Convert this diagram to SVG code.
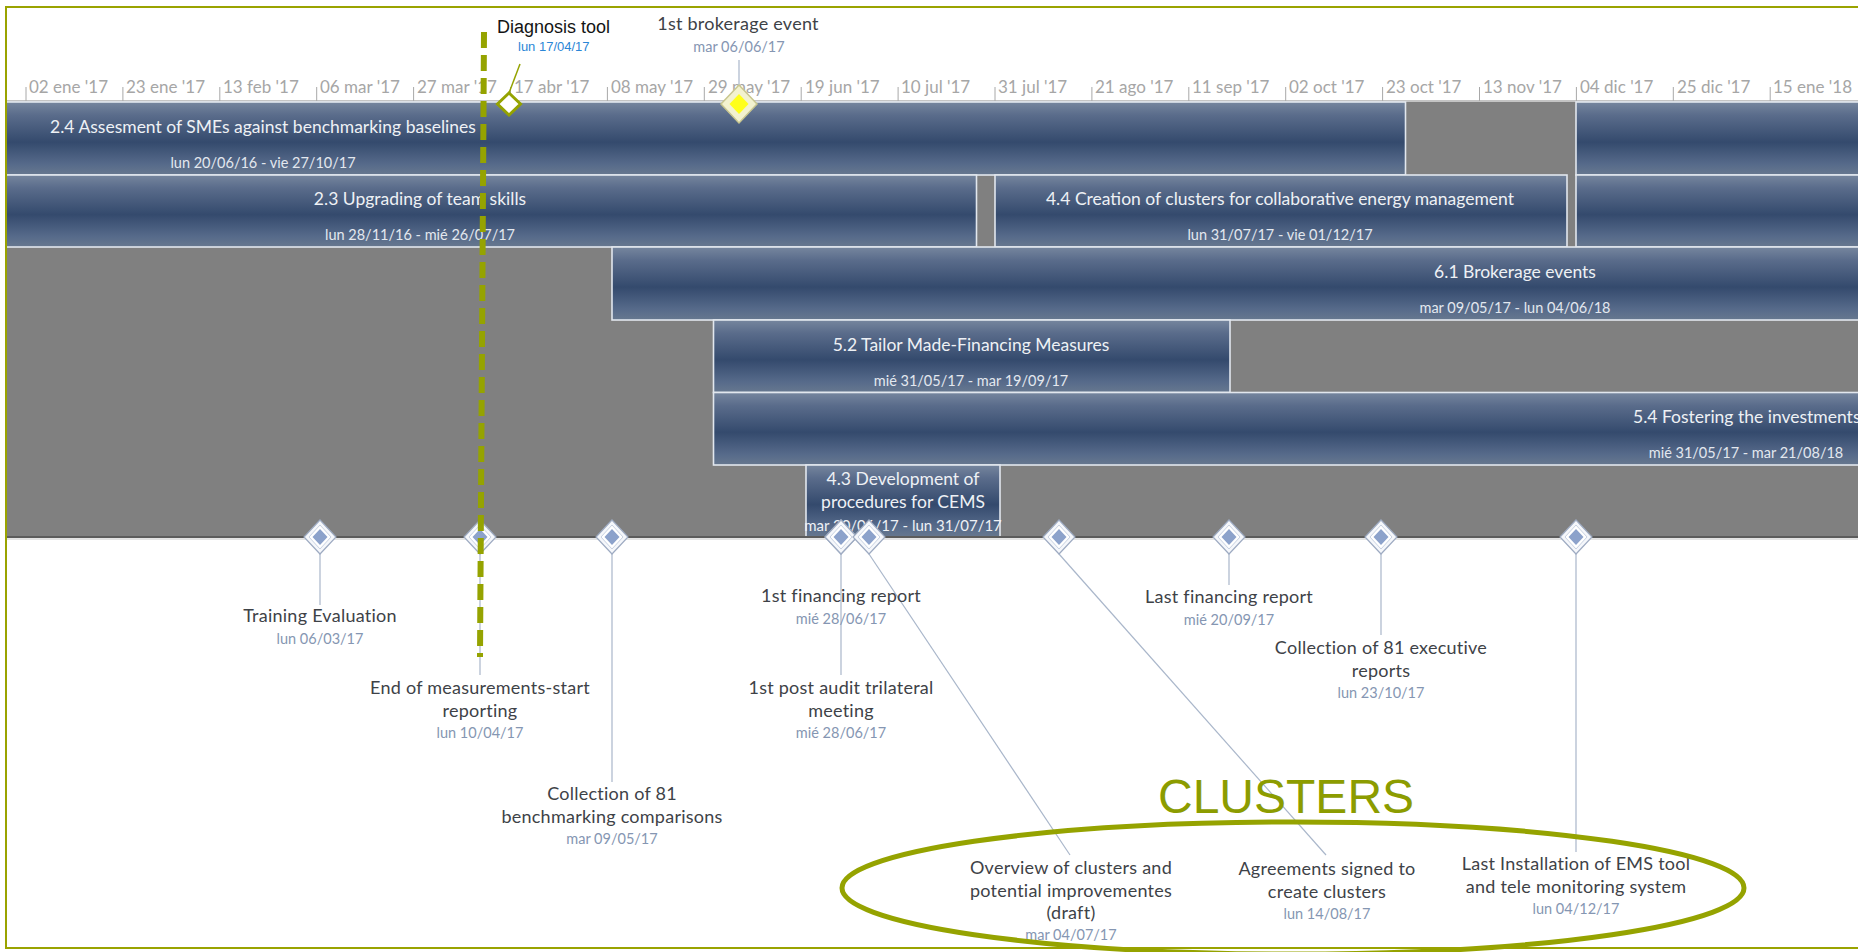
<svg xmlns="http://www.w3.org/2000/svg" width="1858" height="952" viewBox="0 0 1858 952">
<defs>
  <linearGradient id="barGrad" x1="0" y1="0" x2="0" y2="1">
    <stop offset="0" stop-color="#76869e"/>
    <stop offset="0.18" stop-color="#5a6c8b"/>
    <stop offset="0.55" stop-color="#344a6d"/>
    <stop offset="0.85" stop-color="#566a8a"/>
    <stop offset="1" stop-color="#67788f"/>
  </linearGradient>
  <clipPath id="chartClip"><rect x="7" y="8" width="1851" height="940"/></clipPath>
  <g id="msDiamond">
    <polygon points="0,-17 16,0 0,17 -16,0" fill="#f5f7fb" stroke="#9eabc2" stroke-width="1.2"/>
    <polygon points="0,-12 11,0 0,12 -11,0" fill="#ffffff" stroke="#c9d2e2" stroke-width="1"/>
    <polygon points="0,-8 7.5,0 0,8 -7.5,0" fill="#8ca2cb"/>
  </g>
  <style>
    .tick { font-family: Lato, "Liberation Sans", sans-serif; font-size: 17px; fill: #a6a6a6; }
    .tickmark { stroke: #a8a8a8; stroke-width: 1; }
    .bar { fill: url(#barGrad); stroke: #e2e7ee; stroke-width: 1.6; }
    .bt { font-family: Lato, "Liberation Sans", sans-serif; font-size: 17.5px; fill: #eef1f5; text-anchor: middle; }
    .bd { font-family: Lato, "Liberation Sans", sans-serif; font-size: 14.5px; fill: #e3e8ef; text-anchor: middle; }
    .ml { font-family: Lato, "Liberation Sans", sans-serif; font-size: 18px; letter-spacing: 0.25px; fill: #3e4247; text-anchor: middle; }
    .md { font-family: Lato, "Liberation Sans", sans-serif; font-size: 14.5px; fill: #8596b2; text-anchor: middle; }
    .lead { stroke: #a9b6ca; stroke-width: 1.2; fill: none; }
    .olive { stroke: #95a300; fill: none; }
  </style>
</defs>

<rect x="0" y="0" width="1858" height="952" fill="#ffffff"/>

<g id="chart" clip-path="url(#chartClip)">
  <rect x="7" y="102" width="1851" height="435" fill="#808080"/>
  <g id="axis">
    <line x1="7" y1="101" x2="1858" y2="101" stroke="#c4c4c4" stroke-width="2"/>
    <g class="tickmark">
      <line x1="26" y1="87" x2="26" y2="101"/>
      <line x1="122.9" y1="87" x2="122.9" y2="101"/>
      <line x1="219.8" y1="87" x2="219.8" y2="101"/>
      <line x1="316.7" y1="87" x2="316.7" y2="101"/>
      <line x1="413.6" y1="87" x2="413.6" y2="101"/>
      <line x1="510.5" y1="87" x2="510.5" y2="101"/>
      <line x1="607.4" y1="87" x2="607.4" y2="101"/>
      <line x1="704.3" y1="87" x2="704.3" y2="101"/>
      <line x1="801.2" y1="87" x2="801.2" y2="101"/>
      <line x1="898.1" y1="87" x2="898.1" y2="101"/>
      <line x1="995" y1="87" x2="995" y2="101"/>
      <line x1="1091.9" y1="87" x2="1091.9" y2="101"/>
      <line x1="1188.8" y1="87" x2="1188.8" y2="101"/>
      <line x1="1285.7" y1="87" x2="1285.7" y2="101"/>
      <line x1="1382.6" y1="87" x2="1382.6" y2="101"/>
      <line x1="1479.5" y1="87" x2="1479.5" y2="101"/>
      <line x1="1576.4" y1="87" x2="1576.4" y2="101"/>
      <line x1="1673.3" y1="87" x2="1673.3" y2="101"/>
      <line x1="1770.2" y1="87" x2="1770.2" y2="101"/>
    </g>
    <text class="tick" x="29" y="93">02 ene '17</text>
    <text class="tick" x="126" y="93">23 ene '17</text>
    <text class="tick" x="223" y="93">13 feb '17</text>
    <text class="tick" x="320" y="93">06 mar '17</text>
    <text class="tick" x="417" y="93">27 mar '17</text>
    <text class="tick" x="514" y="93">17 abr '17</text>
    <text class="tick" x="611" y="93">08 may '17</text>
    <text class="tick" x="708" y="93">29 may '17</text>
    <text class="tick" x="805" y="93">19 jun '17</text>
    <text class="tick" x="901" y="93">10 jul '17</text>
    <text class="tick" x="998" y="93">31 jul '17</text>
    <text class="tick" x="1095" y="93">21 ago '17</text>
    <text class="tick" x="1192" y="93">11 sep '17</text>
    <text class="tick" x="1289" y="93">02 oct '17</text>
    <text class="tick" x="1386" y="93">23 oct '17</text>
    <text class="tick" x="1483" y="93">13 nov '17</text>
    <text class="tick" x="1580" y="93">04 dic '17</text>
    <text class="tick" x="1677" y="93">25 dic '17</text>
    <text class="tick" x="1773" y="93">15 ene '18</text>
  </g>

  <g id="task-2-4">
    <rect class="bar" x="-10" y="102" width="1415.5" height="73"/>
    <text class="bt" x="263" y="133">2.4 Assesment of SMEs against benchmarking baselines</text>
    <text class="bd" x="263" y="168">lun 20/06/16 - vie 27/10/17</text>
  </g>
  <g id="task-row1-right">
    <rect class="bar" x="1576" y="102" width="300" height="73"/>
  </g>
  <g id="task-2-3">
    <rect class="bar" x="-10" y="175" width="986.5" height="72"/>
    <text class="bt" x="420" y="205">2.3 Upgrading of team skills</text>
    <text class="bd" x="420" y="240">lun 28/11/16 - mié 26/07/17</text>
  </g>
  <g id="task-4-4">
    <rect class="bar" x="995" y="175" width="572" height="72"/>
    <text class="bt" x="1280" y="205">4.4 Creation of clusters for collaborative energy management</text>
    <text class="bd" x="1280" y="240">lun 31/07/17 - vie 01/12/17</text>
  </g>
  <g id="task-row2-right">
    <rect class="bar" x="1576" y="175" width="300" height="72"/>
  </g>
  <g id="task-6-1">
    <rect class="bar" x="612" y="247" width="1270" height="73"/>
    <text class="bt" x="1515" y="278">6.1 Brokerage events</text>
    <text class="bd" x="1515" y="313">mar 09/05/17 - lun 04/06/18</text>
  </g>
  <g id="task-5-2">
    <rect class="bar" x="713.5" y="320" width="516.5" height="72.5"/>
    <text class="bt" x="971" y="351">5.2 Tailor Made-Financing Measures</text>
    <text class="bd" x="971" y="386">mié 31/05/17 - mar 19/09/17</text>
  </g>
  <g id="task-5-4">
    <rect class="bar" x="713.5" y="392.5" width="1170" height="72.5"/>
    <text class="bt" x="1633" y="423" style="text-anchor:start">5.4 Fostering the investments</text>
    <text class="bd" x="1746" y="458">mié 31/05/17 - mar 21/08/18</text>
  </g>
  <g id="task-4-3">
    <rect class="bar" x="806" y="465" width="194" height="72"/>
    <text class="bt" x="903" y="485">4.3 Development of</text>
    <text class="bt" x="903" y="508">procedures for CEMS</text>
    <text class="bt" x="903" y="531" style="font-size:15px">mar 20/06/17 - lun 31/07/17</text>
  </g>
  <line x1="7" y1="537" x2="1858" y2="537" stroke="#5c5c5c" stroke-width="2"/>
  <line x1="7" y1="539" x2="1858" y2="539" stroke="#c8c8c8" stroke-width="1"/>
</g>

<g id="connectors">
  <line class="lead" x1="320" y1="554" x2="320" y2="605"/>
  <line class="lead" x1="480" y1="554" x2="480" y2="675"/>
  <line class="lead" x1="612" y1="554" x2="612" y2="782"/>
  <line class="lead" x1="841" y1="554" x2="841" y2="675"/>
  <line class="lead" x1="869" y1="554" x2="1070" y2="855"/>
  <line class="lead" x1="1059" y1="554" x2="1326" y2="855"/>
  <line class="lead" x1="1229" y1="554" x2="1229" y2="585"/>
  <line class="lead" x1="1381" y1="554" x2="1381" y2="635"/>
  <line class="lead" x1="1576" y1="554" x2="1576" y2="852"/>
  <line class="lead" x1="739" y1="60" x2="739" y2="88"/>
  <polyline points="520,64 509,93" stroke="#95a300" stroke-width="1.5" fill="none"/>
</g>

<g id="ms-training">
  <use href="#msDiamond" x="320" y="537"/>
  <text class="ml" x="320" y="622">Training Evaluation</text>
  <text class="md" x="320" y="644">lun 06/03/17</text>
</g>
<g id="ms-end-measurements">
  <use href="#msDiamond" x="480" y="537"/>
  <text class="ml" x="480" y="694">End of measurements-start</text>
  <text class="ml" x="480" y="717">reporting</text>
  <text class="md" x="480" y="738">lun 10/04/17</text>
</g>
<g id="ms-benchmarking">
  <use href="#msDiamond" x="612" y="537"/>
  <text class="ml" x="612" y="800">Collection of 81</text>
  <text class="ml" x="612" y="823">benchmarking comparisons</text>
  <text class="md" x="612" y="844">mar 09/05/17</text>
</g>
<g id="ms-financing-1">
  <use href="#msDiamond" x="841" y="537"/>
  <text class="ml" x="841" y="602">1st financing report</text>
  <text class="md" x="841" y="624">mié 28/06/17</text>
</g>
<g id="ms-post-audit">
  <use href="#msDiamond" x="841" y="537"/>
  <text class="ml" x="841" y="694">1st post audit trilateral</text>
  <text class="ml" x="841" y="717">meeting</text>
  <text class="md" x="841" y="738">mié 28/06/17</text>
</g>
<g id="ms-overview">
  <use href="#msDiamond" x="869" y="537"/>
  <text class="ml" x="1071" y="874">Overview of clusters and</text>
  <text class="ml" x="1071" y="897">potential improvementes</text>
  <text class="ml" x="1071" y="919">(draft)</text>
  <text class="md" x="1071" y="940">mar 04/07/17</text>
</g>
<g id="ms-agreements">
  <use href="#msDiamond" x="1059" y="537"/>
  <text class="ml" x="1327" y="875">Agreements signed to</text>
  <text class="ml" x="1327" y="898">create clusters</text>
  <text class="md" x="1327" y="919">lun 14/08/17</text>
</g>
<g id="ms-financing-last">
  <use href="#msDiamond" x="1229" y="537"/>
  <text class="ml" x="1229" y="603">Last financing report</text>
  <text class="md" x="1229" y="625">mié 20/09/17</text>
</g>
<g id="ms-executive">
  <use href="#msDiamond" x="1381" y="537"/>
  <text class="ml" x="1381" y="654">Collection of 81 executive</text>
  <text class="ml" x="1381" y="677">reports</text>
  <text class="md" x="1381" y="698">lun 23/10/17</text>
</g>
<g id="ms-ems">
  <use href="#msDiamond" x="1576" y="537"/>
  <text class="ml" x="1576" y="870">Last Installation of EMS tool</text>
  <text class="ml" x="1576" y="893">and tele monitoring system</text>
  <text class="md" x="1576" y="914">lun 04/12/17</text>
</g>

<g id="ms-brokerage">
  <text class="ml" x="738" y="30">1st brokerage event</text>
  <text class="md" x="739" y="52">mar 06/06/17</text>
  <polygon points="739,85 757,104 739,123 721,104" fill="#f3f2cf" stroke="#c9c78f" stroke-width="1.5"/>
  <polygon points="739,94 748.5,104 739,114 729.5,104" fill="#ffff1a"/>
</g>
<g id="ms-diagnosis">
  <text x="497" y="33" font-family="Liberation Sans, Arial, sans-serif" font-size="18" fill="#141414">Diagnosis tool</text>
  <text x="518" y="51" font-family="Liberation Sans, Arial, sans-serif" font-size="13" fill="#2b86d6">lun 17/04/17</text>
  <polygon points="509,93 520.5,104 509,115 497.5,104" fill="#ffffff" stroke="#95a300" stroke-width="3"/>
</g>

<g id="status-line">
  <line x1="484" y1="32" x2="480" y2="657" stroke="#95a300" stroke-width="6" stroke-dasharray="16 7"/>
</g>

<g id="clusters">
  <ellipse cx="1293" cy="888" rx="451" ry="66" class="olive" stroke-width="5"/>
  <text x="1158" y="813" font-family="Liberation Sans, Arial, sans-serif" font-size="48" fill="#8c9c00">CLUSTERS</text>
</g>

<rect x="6" y="7" width="1860" height="941" fill="none" stroke="#9aa300" stroke-width="2"/>
</svg>
